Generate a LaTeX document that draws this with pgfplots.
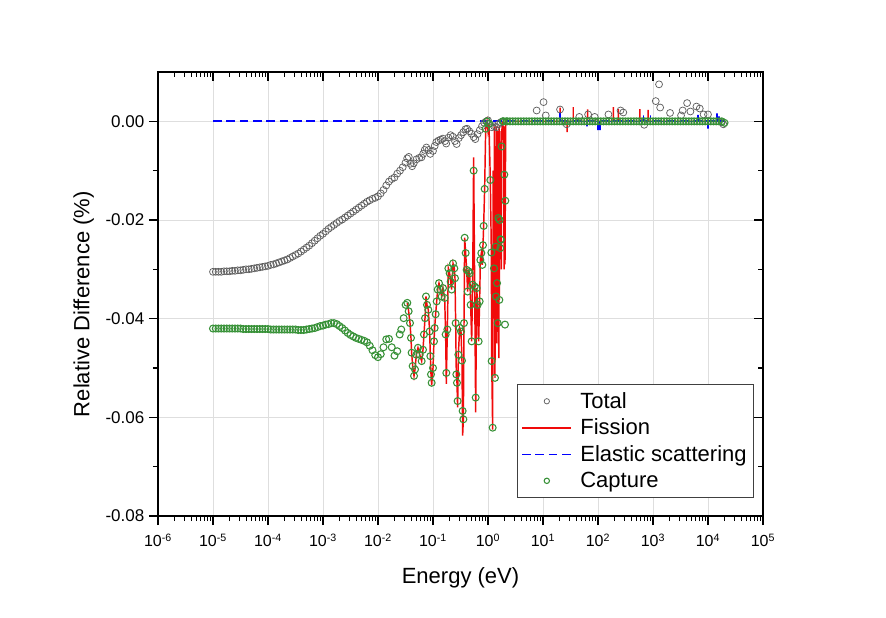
\documentclass[border=0pt]{standalone}
\usepackage{fontspec}
\setmainfont{Liberation Sans}
\usepackage{pgfplots}
\pgfplotsset{compat=1.18}
\definecolor{cRed}{RGB}{240,10,10}
\definecolor{cBlue}{RGB}{0,0,255}
\definecolor{cGreen}{RGB}{55,145,55}
\definecolor{cGray}{RGB}{95,95,95}
\definecolor{cGrid}{RGB}{222,222,222}
\pgfplotsset{
 lineleg/.style={legend image code/.code={\draw[##1] (0pt,0pt) -- (37pt,0pt); \path (41pt,0pt);}},
 markleg/.style={legend image code/.code={\draw[##1, mark size=2pt] plot coordinates {(18.5pt,0pt)}; \path (0pt,0pt) (41pt,0pt);}},
}
\begin{document}
\begin{tikzpicture}
\useasboundingbox (-118.5pt,-76.5pt) rectangle (546pt,387pt);
\begin{axis}[
  scale only axis, width=453.75pt, height=333pt,
  at={(0pt,0pt)}, anchor=south west,
  xmode=log, xmin=1e-6, xmax=1e5, ymin=-0.08, ymax=0.01,
  scaled y ticks=false,
  xtick={1e-6,1e-5,1e-4,1e-3,1e-2,1e-1,1,1e1,1e2,1e3,1e4,1e5},
  ytick={-0.08,-0.06,-0.04,-0.02,0},
  minor y tick num=1,
  axis line style={line width=1.1pt},
  major tick length=6.75pt, minor tick length=3.75pt,
  tick style={black, line width=0.9pt},
  tick pos=left, tick align=outside,
  grid=major, major grid style={cGrid, line width=0.6pt},
  xticklabels={10\textsuperscript{-6},10\textsuperscript{-5},10\textsuperscript{-4},10\textsuperscript{-3},10\textsuperscript{-2},10\textsuperscript{-1},10\textsuperscript{0},10\textsuperscript{1},10\textsuperscript{2},10\textsuperscript{3},10\textsuperscript{4},10\textsuperscript{5}},
  yticklabels={-0.08,-0.06,-0.04,-0.02,0.00},
  xticklabel style={font=\fontsize{12}{14}\selectfont, yshift=-3pt},
  yticklabel style={font=\fontsize{12.75}{15}\selectfont},
  xlabel={Energy (eV)}, ylabel={Relative Difference (\%)},
  label style={font=\fontsize{16.5}{19}\selectfont},
  xlabel style={at={(axis description cs:0.5,0)}, anchor=north, yshift=-35pt},
  ylabel style={at={(axis description cs:-0.098,0.477)}, anchor=south},
  legend cell align=left,
  legend style={at={(0.593,0.0405)}, anchor=south west, draw=black!75, line width=0.8pt,
    font=\fontsize{16.5}{18}\selectfont, inner xsep=3pt, inner ysep=4pt, row sep=2.5pt},
]
% Total
\addplot[only marks, mark=o, mark size=2.6pt, mark options={draw=cGray, fill=white, line width=0.55pt}, markleg] coordinates {
(1.000e-5,-0.0305) (1.122e-5,-0.0305) (1.259e-5,-0.0305) (1.413e-5,-0.0305) (1.585e-5,-0.0304)
(1.778e-5,-0.0304) (1.995e-5,-0.0304) (2.239e-5,-0.0303) (2.512e-5,-0.0303) (2.818e-5,-0.0302)
(3.162e-5,-0.0302) (3.548e-5,-0.0301) (3.981e-5,-0.0300) (4.467e-5,-0.0300) (5.012e-5,-0.0299)
(5.623e-5,-0.0298) (6.310e-5,-0.0297) (7.079e-5,-0.0296) (7.943e-5,-0.0295) (8.913e-5,-0.0294)
(1.000e-4,-0.0293) (1.122e-4,-0.0291) (1.259e-4,-0.0290) (1.413e-4,-0.0288) (1.585e-4,-0.0286)
(1.778e-4,-0.0284) (1.995e-4,-0.0282) (2.239e-4,-0.0280) (2.512e-4,-0.0277) (2.818e-4,-0.0274)
(3.162e-4,-0.0271) (3.548e-4,-0.0268) (3.981e-4,-0.0264) (4.467e-4,-0.0260) (5.012e-4,-0.0256)
(5.623e-4,-0.0252) (6.310e-4,-0.0247) (7.079e-4,-0.0242) (7.943e-4,-0.0237) (8.913e-4,-0.0232)
(1.000e-3,-0.0228) (1.122e-3,-0.0223) (1.259e-3,-0.0218) (1.413e-3,-0.0214) (1.585e-3,-0.0210)
(1.778e-3,-0.0206) (1.995e-3,-0.0202) (2.239e-3,-0.0199) (2.512e-3,-0.0195) (2.818e-3,-0.0191)
(3.162e-3,-0.0187) (3.548e-3,-0.0183) (3.981e-3,-0.0179) (4.467e-3,-0.0175) (5.012e-3,-0.0171)
(5.623e-3,-0.0167) (6.310e-3,-0.0163) (7.079e-3,-0.0160) (7.943e-3,-0.0157) (8.913e-3,-0.0155)
(1.000e-2,-0.0152) (1.122e-2,-0.0146) (1.259e-2,-0.0139) (1.413e-2,-0.0130) (1.585e-2,-0.0122)
(1.778e-2,-0.0117) (1.995e-2,-0.0114) (2.239e-2,-0.0106) (2.512e-2,-0.0100) (2.818e-2,-0.0093)
(3.162e-2,-0.0084) (3.388e-2,-0.0075) (3.631e-2,-0.0072) (3.890e-2,-0.0086) (4.169e-2,-0.0091)
(4.467e-2,-0.0085) (5.012e-2,-0.0077) (5.623e-2,-0.0074) (6.166e-2,-0.0073) (6.607e-2,-0.0066)
(7.079e-2,-0.0058) (7.586e-2,-0.0053) (8.318e-2,-0.0058) (8.913e-2,-0.0066) (0.1000,-0.0060)
(0.1072,-0.0050) (0.1148,-0.0042) (0.1259,-0.0039) (0.1380,-0.0037) (0.1514,-0.0035)
(0.1660,-0.0040) (0.1738,-0.0045) (0.1905,-0.0033) (0.2089,-0.0028) (0.2291,-0.0031)
(0.2512,-0.0040) (0.2692,-0.0046) (0.2951,-0.0034) (0.3236,-0.0028) (0.3548,-0.0022)
(0.3890,-0.0016) (0.4169,-0.0015) (0.4571,-0.0020) (0.5012,-0.0025) (0.5495,-0.0032)
(0.5888,-0.0036) (0.6457,-0.0026) (0.7079,-0.0018) (0.7762,-0.0010) (0.8511,-0.0003)
(0.9333,0.0000) (1.000,0.0002) (1.072,-0.0005) (1.175,-0.0012) (1.288,-0.0010)
(1.413,-0.0012) (1.549,-0.0006) (1.698,-0.0002) (1.862,0.0000)
(7.674,0.0022) (10.23,0.0039) (11.22,0.0012) (20.42,0.0024) (26.92,-0.0006)
(45.71,0.0009) (66.07,0.0014) (87.10,0.0009) (154.9,0.0014) (257.0,0.0022)
(288.4,0.0018) (691.8,-0.0007) (1122,0.0041) (1288,0.0075) (1349,0.0028)
(2042,0.0017) (3236,0.0012) (3467,0.0022) (4169,0.0037) (4786,0.0020)
(6166,0.0030) (7079,0.0026) (8318,0.0014) (10000,0.0014) (17780,-0.0002) (19050,-0.0006)
};
\addlegendentry{Total}
% Fission
\addplot[color=cRed, line width=1.1pt, lineleg] coordinates {
(0.0341,-0.0368) (0.0361,-0.0385) (0.0382,-0.0409) (0.0398,-0.0439) (0.0409,-0.0469)
(0.0427,-0.0496) (0.0452,-0.0516) (0.0471,-0.0503) (0.0498,-0.0473) (0.0533,-0.0459)
(0.0573,-0.0473) (0.0622,-0.0486) (0.0658,-0.0463) (0.0685,-0.0432) (0.0716,-0.0399)
(0.0746,-0.0355) (0.0778,-0.0372) (0.0822,-0.0382) (0.0869,-0.0426) (0.0895,-0.0476)
(0.0920,-0.0513) (0.0946,-0.0535) (0.1000,-0.0500) (0.1042,-0.0446) (0.1072,-0.0419)
(0.1117,-0.0391) (0.1167,-0.0365) (0.1216,-0.0341) (0.1285,-0.0328) (0.1358,-0.0341)
(0.1439,-0.0355) (0.1521,-0.0338) (0.1629,-0.0358) (0.1698,-0.0432) (0.1746,-0.0532)
(0.1824,-0.0422) (0.1901,-0.0298) (0.2009,-0.0308) (0.2094,-0.0325) (0.2183,-0.0341)
(0.2312,-0.0288) (0.2443,-0.0298) (0.2512,-0.0318) (0.2582,-0.0409) (0.2655,-0.0513)
(0.2729,-0.0530) (0.2805,-0.0580) (0.2891,-0.0473) (0.3055,-0.0419) (0.3228,-0.0426)
(0.3365,-0.0485) (0.3459,-0.0637) (0.3565,-0.0604) (0.3664,-0.0409) (0.3767,-0.0236)
(0.3926,-0.0267) (0.4093,-0.0301) (0.4266,-0.0345) (0.4446,-0.0304) (0.4645,-0.0308)
(0.4842,-0.0372) (0.5047,-0.0446) (0.5260,-0.0331) (0.5483,-0.0073) (0.5728,-0.0335)
(0.5970,-0.0590) (0.6223,-0.0338) (0.6486,-0.0372) (0.6761,-0.0446) (0.7047,-0.0365)
(0.7261,-0.0281) (0.7568,-0.0267) (0.7889,-0.0291) (0.8110,-0.0251) (0.8337,-0.0212)
(0.8690,-0.0137) (0.9078,-0.0015) (0.9594,0.0000) (1.000,-0.0020) (1.042,-0.0005)
(1.102,-0.0119) (1.151,-0.0266) (1.167,-0.0486) (1.216,-0.0625) (1.240,-0.0100)
(1.262,-0.0400) (1.285,-0.0298) (1.310,-0.0010) (1.340,-0.0520) (1.360,-0.0050)
(1.377,-0.0254) (1.396,-0.0355) (1.420,-0.0010) (1.440,-0.0450) (1.459,-0.0328)
(1.480,-0.0020) (1.500,-0.0409) (1.520,-0.0030) (1.542,-0.0196) (1.570,-0.0480)
(1.590,-0.0010) (1.607,-0.0362) (1.629,-0.0200) (1.650,-0.0020) (1.675,-0.0257)
(1.698,-0.0239) (1.710,-0.0050) (1.722,-0.0240) (1.750,-0.0300) (1.770,-0.0051)
(1.800,-0.0010) (1.849,0.0000) (1.900,-0.0020) (1.928,-0.0010) (1.960,-0.0300)
(1.982,-0.0108) (2.010,-0.0010) (2.037,-0.0290) (2.065,-0.0161) (2.100,0.0000)
(20.42,0) (20.42,0.0028) (20.42,0) (27.54,0) (27.54,-0.0022) (27.54,0)
(35.48,0) (35.48,0.0029) (35.48,0) (64.57,0) (64.57,0.0024) (64.57,0)
(190.5,0) (190.5,0.0029) (190.5,0) (234.4,0) (234.4,0.0025) (234.4,0)
(575.4,0) (575.4,0.0025) (575.4,0) (812.8,0) (812.8,0.0023) (812.8,0)
(19950,0)
};
\addlegendentry{Fission}
% Elastic scattering
\addplot[draw=cBlue, line width=1.3pt, dash pattern=on 6.5pt off 3.5pt, lineleg] table[row sep=\\] {
x y \\ 1e-5 0 \\ 19950 0 \\
};
\addlegendentry{Elastic scattering}
\addplot[color=cBlue, line width=1.1pt, forget plot] coordinates {
(20.42,0) (20.42,0.0017) (20.42,0) (63.10,0) (63.10,-0.0010) (63.10,0)
(100.0,0) (100.0,-0.0018) (100.0,0) (109.6,0) (109.6,-0.0018) (109.6,0)
(676.1,0) (676.1,0.0012) (676.1,0) (891.3,0) (891.3,0.0012) (891.3,0)
(6607,0) (6607,0.0013) (6607,0) (10000,0) (10000,-0.0015) (10000,0)
(14450,0) (14450,0.0016) (14450,0) (15850,0) (15850,0.0010) (15850,0)
};
% Capture
\addplot[only marks, mark=o, mark size=2.6pt, mark options={draw=cGreen, fill=white, line width=0.8pt}, markleg] coordinates {
(1.000e-5,-0.0420) (1.122e-5,-0.0420) (1.259e-5,-0.0420) (1.413e-5,-0.0420) (1.585e-5,-0.0420)
(1.778e-5,-0.0420) (1.995e-5,-0.0420) (2.239e-5,-0.0420) (2.512e-5,-0.0420) (2.818e-5,-0.0420)
(3.162e-5,-0.0420) (3.548e-5,-0.0421) (3.981e-5,-0.0421) (4.467e-5,-0.0421) (5.012e-5,-0.0421)
(5.623e-5,-0.0421) (6.310e-5,-0.0421) (7.079e-5,-0.0421) (7.943e-5,-0.0421) (8.913e-5,-0.0421)
(1.000e-4,-0.0421) (1.122e-4,-0.0422) (1.259e-4,-0.0422) (1.413e-4,-0.0422) (1.585e-4,-0.0422)
(1.778e-4,-0.0422) (1.995e-4,-0.0422) (2.239e-4,-0.0422) (2.512e-4,-0.0422) (2.818e-4,-0.0422)
(3.162e-4,-0.0422) (3.548e-4,-0.0423) (3.981e-4,-0.0423) (4.467e-4,-0.0423) (5.012e-4,-0.0422)
(5.623e-4,-0.0421) (6.310e-4,-0.0420) (7.079e-4,-0.0419) (7.943e-4,-0.0417) (8.913e-4,-0.0415)
(1.000e-3,-0.0414) (1.122e-3,-0.0412) (1.259e-3,-0.0411) (1.413e-3,-0.0409) (1.585e-3,-0.0409)
(1.778e-3,-0.0411) (1.995e-3,-0.0415) (2.239e-3,-0.0419) (2.512e-3,-0.0424) (2.818e-3,-0.0429)
(3.162e-3,-0.0433) (3.548e-3,-0.0436) (3.981e-3,-0.0439) (4.467e-3,-0.0441) (5.012e-3,-0.0443)
(5.623e-3,-0.0445) (6.310e-3,-0.0448) (7.079e-3,-0.0455) (7.943e-3,-0.0464) (8.913e-3,-0.0474)
(1.000e-2,-0.0478) (1.122e-2,-0.0472) (1.259e-2,-0.0458) (1.413e-2,-0.0442) (1.585e-2,-0.0441)
(1.778e-2,-0.0458) (1.995e-2,-0.0475) (2.239e-2,-0.0466)
(0.0248,-0.0432) (0.0265,-0.0422) (0.0293,-0.0399) (0.0318,-0.0372) (0.0341,-0.0368)
(0.0361,-0.0385) (0.0382,-0.0409) (0.0398,-0.0439) (0.0409,-0.0469) (0.0427,-0.0496)
(0.0452,-0.0516) (0.0471,-0.0503) (0.0498,-0.0473) (0.0533,-0.0459) (0.0573,-0.0473)
(0.0622,-0.0486) (0.0658,-0.0463) (0.0685,-0.0432) (0.0716,-0.0399) (0.0746,-0.0355)
(0.0778,-0.0372) (0.0822,-0.0382) (0.0869,-0.0426) (0.0895,-0.0476) (0.0920,-0.0513)
(0.0946,-0.0530) (0.1000,-0.0500) (0.1042,-0.0446) (0.1072,-0.0419) (0.1117,-0.0391)
(0.1167,-0.0365) (0.1216,-0.0341) (0.1285,-0.0328) (0.1358,-0.0341) (0.1439,-0.0355)
(0.1521,-0.0338) (0.1629,-0.0358) (0.1698,-0.0432) (0.1746,-0.0510) (0.1824,-0.0422)
(0.1901,-0.0298) (0.2009,-0.0308) (0.2094,-0.0325) (0.2183,-0.0341) (0.2312,-0.0288)
(0.2443,-0.0298) (0.2512,-0.0318) (0.2582,-0.0409) (0.2655,-0.0513) (0.2729,-0.0530)
(0.2805,-0.0567) (0.2891,-0.0473) (0.3055,-0.0419) (0.3228,-0.0426) (0.3365,-0.0485)
(0.3459,-0.0587) (0.3565,-0.0604) (0.3664,-0.0409) (0.3767,-0.0236) (0.3926,-0.0267)
(0.4093,-0.0301) (0.4266,-0.0345) (0.4446,-0.0304) (0.4645,-0.0308) (0.4842,-0.0372)
(0.5047,-0.0446) (0.5260,-0.0331) (0.5483,-0.0100) (0.5728,-0.0335) (0.5970,-0.0560)
(0.6223,-0.0338) (0.6486,-0.0372) (0.6761,-0.0446) (0.7047,-0.0365) (0.7261,-0.0281)
(0.7568,-0.0267) (0.7889,-0.0291) (0.8110,-0.0251) (0.8337,-0.0212) (0.8690,-0.0137)
(0.9078,-0.0015) (0.9594,0.0000) (1.042,-0.0005) (1.102,-0.0119) (1.151,-0.0266)
(1.167,-0.0486) (1.216,-0.0621) (1.285,-0.0298) (1.340,-0.0520) (1.377,-0.0254)
(1.396,-0.0355) (1.459,-0.0328) (1.500,-0.0409) (1.542,-0.0196) (1.607,-0.0362)
(1.629,-0.0200) (1.675,-0.0257) (1.698,-0.0239) (1.722,-0.0240) (1.770,-0.0051)
(1.849,0.0000) (1.928,0.0000) (1.982,-0.0108) (2.037,-0.0412) (2.065,-0.0161) (2.153,0.0000)
(2.239,0) (2.512,0) (2.818,0) (3.162,0) (3.548,0) (3.981,0) (4.467,0) (5.012,0) (5.623,0) (6.310,0)
(7.079,0) (7.943,0) (8.913,0) (10.00,0) (11.22,0) (12.59,0) (14.13,0) (15.85,0) (17.78,0) (19.95,0)
(22.39,0) (25.12,0) (28.18,0) (31.62,0) (35.48,0) (39.81,0) (44.67,0) (50.12,0) (56.23,0) (63.10,0)
(70.79,0) (79.43,0) (89.13,0) (100.0,0) (112.2,0) (125.9,0) (141.3,0) (158.5,0) (177.8,0) (199.5,0)
(223.9,0) (251.2,0) (281.8,0) (316.2,0) (354.8,0) (398.1,0) (446.7,0) (501.2,0) (562.3,0) (631.0,0)
(707.9,0) (794.3,0) (891.3,0) (1000,0) (1122,0) (1259,0) (1413,0) (1585,0) (1778,0) (1995,0)
(2239,0) (2512,0) (2818,0) (3162,0) (3548,0) (3981,0) (4467,0) (5012,0) (5623,0) (6310,0)
(7079,0) (7943,0) (8913,0) (10000,0) (11220,0) (12590,0) (14130,0) (15850,0) (17780,0) (19950,-0.0003)
};
\addlegendentry{Capture}
\end{axis}
\begin{axis}[
  scale only axis, width=453.75pt, height=333pt,
  at={(0pt,0pt)}, anchor=south west,
  xmode=log, xmin=1e-6, xmax=1e5, ymin=-0.08, ymax=0.01,
  scaled y ticks=false,
  xtick={1e-6,1e-5,1e-4,1e-3,1e-2,1e-1,1,1e1,1e2,1e3,1e4,1e5},
  ytick={-0.08,-0.06,-0.04,-0.02,0},
  minor y tick num=1,
  axis line style={line width=1.1pt},
  major tick length=6.75pt, minor tick length=3.75pt,
  tick style={black, line width=0.9pt},
  tick pos=right, tick align=inside, xticklabels={}, yticklabels={}]
\addplot[draw=none, forget plot] coordinates {(1,0)};
\end{axis}
\end{tikzpicture}
\end{document}
